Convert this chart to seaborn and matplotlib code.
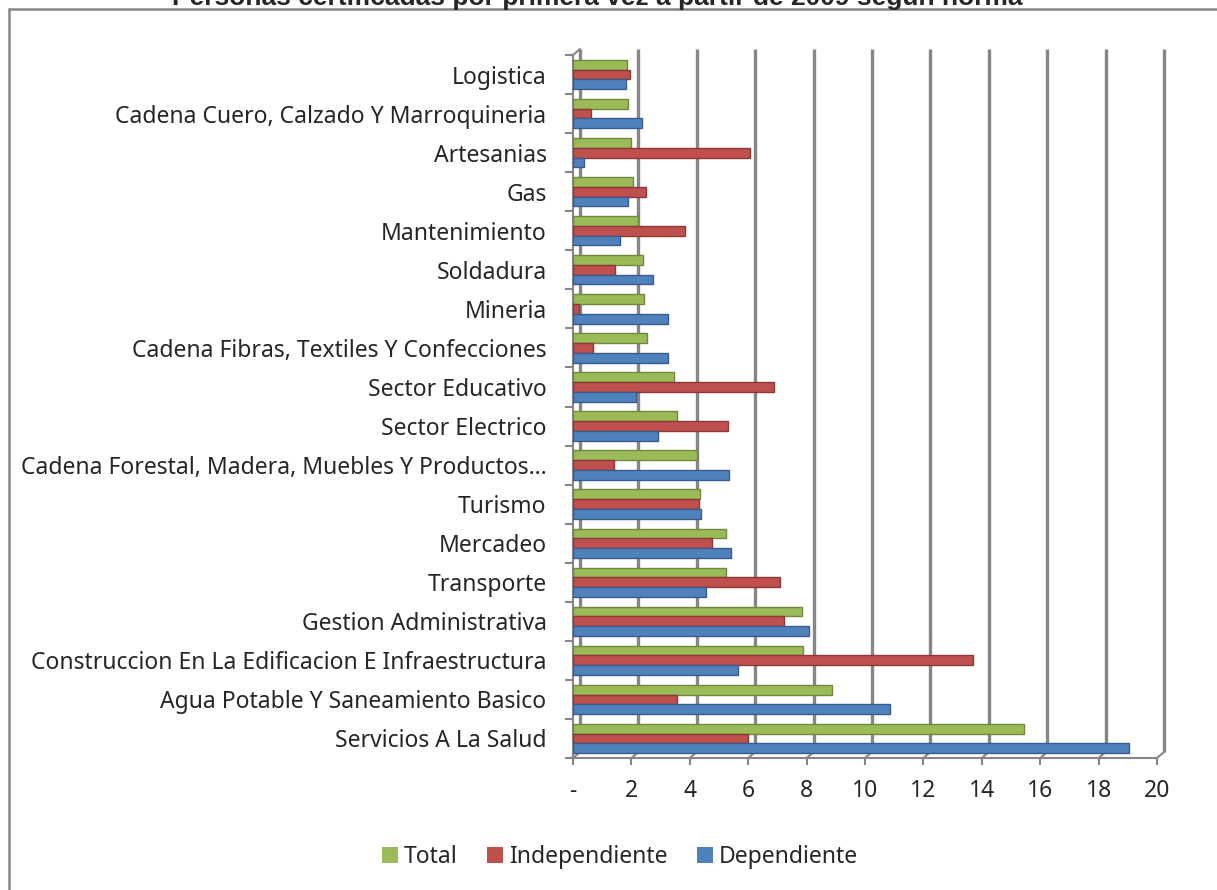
import matplotlib
matplotlib.use("Agg")
import matplotlib.pyplot as plt
import matplotlib.transforms as mtransforms
from matplotlib.patches import Rectangle, Patch
import seaborn as sns
import pandas as pd

categories = [
    "Logistica",
    "Cadena Cuero, Calzado Y Marroquineria",
    "Artesanias",
    "Gas",
    "Mantenimiento",
    "Soldadura",
    "Mineria",
    "Cadena Fibras, Textiles Y Confecciones",
    "Sector Educativo",
    "Sector Electrico",
    "Cadena Forestal, Madera, Muebles Y Productos…",
    "Turismo",
    "Mercadeo",
    "Transporte",
    "Gestion Administrativa",
    "Construccion En La Edificacion E Infraestructura",
    "Agua Potable Y Saneamiento Basico",
    "Servicios A La Salud",
]
total = [1.86, 1.88, 1.98, 2.07, 2.21, 2.41, 2.43, 2.53, 3.46, 3.57, 4.24, 4.35, 5.23, 5.25, 7.84, 7.89, 8.86, 15.44]
independiente = [1.95, 0.61, 6.06, 2.50, 3.82, 1.45, 0.20, 0.68, 6.89, 5.30, 1.39, 4.31, 4.75, 7.10, 7.24, 13.70, 3.55, 5.98]
dependiente = [1.82, 2.37, 0.39, 1.90, 1.60, 2.75, 3.24, 3.24, 2.16, 2.90, 5.33, 4.37, 5.40, 4.54, 8.08, 5.66, 10.87, 19.04]
series_names = ["Total", "Independiente", "Dependiente"]
x_ticks = [0, 2, 4, 6, 8, 10, 12, 14, 16, 18, 20]
x_tick_labels = ["-", "2", "4", "6", "8", "10", "12", "14", "16", "18", "20"]
title = "Personas certificadas por primera vez a partir de 2009 según norma"

colors = {"Total": "#9BBB59", "Independiente": "#C0504D", "Dependiente": "#4F81BD"}
edges = {"Total": "#71893F", "Independiente": "#8C3836", "Dependiente": "#385D8A"}

rows = []
for name, vals in zip(series_names, [total, independiente, dependiente]):
    for c, v in zip(categories, vals):
        rows.append({"Norma": c, "Serie": name, "Valor": v})
df = pd.DataFrame(rows)

sns.set_theme(style="white")
plt.rcParams["font.family"] = ["Noto Sans", "DejaVu Sans"]

W, H = 1217, 890
fig = plt.figure(figsize=(W / 100, H / 100), dpi=100)
ax_l, ax_r, ax_t, ax_b = 573, 1157, 55, 758
ax = fig.add_axes([ax_l / W, 1 - ax_b / H, (ax_r - ax_l) / W, (ax_b - ax_t) / H])

grid_col = "#868686"
# back-wall gridlines (3D effect, offset up/right)
dx_px, dy_px = 7, 6
off = mtransforms.ScaledTranslation(dx_px / 100, dy_px / 100, fig.dpi_scale_trans)
ax.vlines(x_ticks, 0, 1, transform=ax.get_xaxis_transform() + off,
          colors=grid_col, linewidth=2.4, zorder=0, clip_on=False)
# floor / wall diagonals joining front edges to back wall
units_per_px = 20 / (ax_r - ax_l)
for v in x_ticks:
    ax.plot([v, v + dx_px * units_per_px], [0, dy_px / (ax_b - ax_t)],
            transform=ax.get_xaxis_transform(), color=grid_col, lw=1.5,
            clip_on=False, zorder=0)
ax.plot([0, dx_px * units_per_px], [1, 1 + dy_px / (ax_b - ax_t)],
        transform=ax.get_xaxis_transform(), color=grid_col, lw=1.5,
        clip_on=False, zorder=0)

sns.barplot(data=df, y="Norma", x="Valor", hue="Serie", order=categories,
            hue_order=series_names, palette=colors, orient="h", width=0.75,
            ax=ax, legend=False, zorder=3, saturation=1)
for patch, name in zip(ax.patches, [s for s in series_names for _ in categories]):
    patch.set_edgecolor(edges[name])
    patch.set_linewidth(1.0)

ax.set_xlim(0, 20)
ax.set_ylim(len(categories) - 0.5, -0.5)
ax.set_xticks(x_ticks)
ax.set_xticklabels(x_tick_labels, fontsize=16.5)
ax.set_yticks(range(len(categories)))
ax.set_yticklabels(categories, fontsize=16.5)
ax.set_yticks([i - 0.5 for i in range(len(categories) + 1)], minor=True)
ax.tick_params(axis="y", which="major", length=0, pad=19)
ax.tick_params(axis="y", which="minor", length=6, width=1.5, color=grid_col, direction="out", left=True)
ax.tick_params(axis="x", which="major", length=5, width=1.5, color=grid_col, direction="out", pad=10, bottom=True)
ax.set_xlabel("")
ax.set_ylabel("")
for s in ["top", "right"]:
    ax.spines[s].set_visible(False)
for s in ["left", "bottom"]:
    ax.spines[s].set_color(grid_col)
    ax.spines[s].set_linewidth(1.5)
ax.set_facecolor("none")

# chart frame (its right and bottom edges lie outside the picture)
fig.patches.append(Rectangle((9 / W, -10 / H), (W + 10) / W, (H + 1) / H,
                             transform=fig.transFigure, fill=False,
                             edgecolor=grid_col, linewidth=1.8))

fig.text(597 / W, 1 - 5 / H, title, ha="center", va="baseline",
         fontsize=19, fontweight="bold", family=["Liberation Sans", "DejaVu Sans"])

handles = [Patch(facecolor=colors[n], edgecolor="none") for n in series_names]
fig.legend(handles, series_names, loc="center", bbox_to_anchor=(620 / W, 1 - 857 / H),
           ncol=3, frameon=False, fontsize=16.5, handlelength=0.7, handleheight=0.7,
           handletextpad=0.25, columnspacing=1.3)

fig.savefig("out.png", dpi=100)
